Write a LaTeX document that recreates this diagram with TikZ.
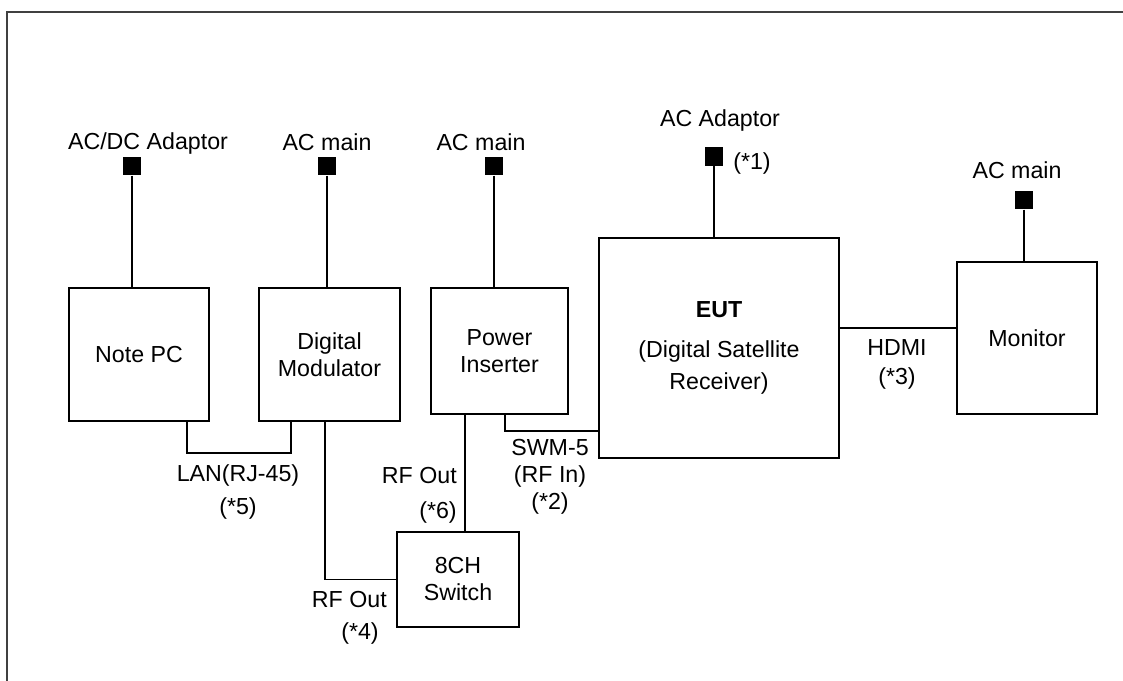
\documentclass[tikz,border=0pt]{standalone}
\usepackage{fontspec}
\setmainfont{Liberation Sans}
\usepackage{tikz}
\usetikzlibrary{positioning,calc}
\newcommand{\lblfont}{\fontsize{16.5pt}{19.2pt}\selectfont}

\begin{document}
\begin{tikzpicture}[x=0.025cm, y=-0.025cm,
  box/.style={draw, line width=1.3pt, inner sep=0pt, align=center, font=\lblfont},
  plug/.style={fill=black, minimum size=0.47cm, inner sep=0pt},
  lbl/.style={align=center, font=\lblfont, inner sep=0pt},
  wire/.style={line width=1.3pt}]
  \useasboundingbox (0,0) rectangle (1123,681);
  \draw[line width=1.4pt, black!75] (1123,12) -- (7,12) -- (7,681);

  % units
  \node[box, minimum width=3.5cm, minimum height=3.325cm] (notepc) at (139,354.5) {Note PC};
  \node[box, minimum width=3.525cm, minimum height=3.325cm] (digmod) at (329.5,354.5) {Digital\\Modulator};
  \node[box, minimum width=3.425cm, minimum height=3.15cm] (pwrins) at (499.5,351) {Power\\Inserter};
  \node[box, minimum width=6cm, minimum height=5.5cm] (eut) at (719,348)
       {\textbf{EUT}\\[9.3pt](Digital Satellite\\[3.6pt]Receiver)};
  \node[box, minimum width=3.5cm, minimum height=3.8cm] (monitor) at (1027,338) {Monitor};
  \node[box, minimum width=3.05cm, minimum height=2.375cm] (switch) at (458,579.5) {8CH\\Switch};

  % power plugs
  \node[plug] (acdc) at (132,166) {};
  \node[plug] (acmodul) at (327,166) {};
  \node[plug] (acinsert) at (494,166) {};
  \node[plug] (acadapt) at (714,156.5) {};
  \node[plug] (acmon) at (1024,200) {};
  \node[lbl] (lacdc) at (148,144) {AC/DC Adaptor};
  \node[lbl] (lmodul) at (327,142) {AC main};
  \node[lbl] (linsert) at (481,142) {AC main};
  \node[lbl] (ladapt) at (720,121) {AC Adaptor};
  \node[lbl] (lstar1) at (752,163.5) {(*1)};
  \node[lbl] (lmon) at (1017,170.5) {AC main};

  \draw[wire] (acdc) -- (acdc |- notepc.north);
  \draw[wire] (acmodul) -- (acmodul |- digmod.north);
  \draw[wire] (acinsert) -- (acinsert |- pwrins.north);
  \draw[wire] (acadapt) -- (acadapt |- eut.north);
  \draw[wire] (acmon) -- (acmon |- monitor.north);

  % cables
  \draw[wire] ($(notepc.south)+(48,0)$) -- ++(0,31) -| ($(digmod.south)+(-38.5,0)$);
  \draw[wire] ($(digmod.south)+(-4.5,0)$) |- (switch.west);
  \coordinate (sw6) at ($(switch.north)+(7,0)$);
  \draw[wire] (sw6) -- (sw6 |- pwrins.south);
  \draw[wire] ($(pwrins.south)+(5.5,0)$) |- ($(eut.south west)+(0,-28)$);
  \coordinate (hd) at ($(eut.east)+(0,-20)$);
  \draw[wire] (hd) -- (hd -| monitor.west);

  % cable labels
  \node[lbl] (llan) at (238,492) {LAN(RJ-45)\\[3.6pt](*5)};
  \node[lbl, align=right, anchor=east] (lrf6) at (457,495.5) {RF Out\\[5.7pt](*6)};
  \node[lbl] (lswm) at (550,476.5) {SWM-5\\(RF In)\\(*2)};
  \node[lbl, align=right, anchor=east] (lrf4) at (387,617.5) {RF Out\\[3.6pt](*4)\hspace*{0.2cm}};
  \node[lbl] (lhdmi) at (897,364) {HDMI\\[1.4pt](*3)};
\end{tikzpicture}
\end{document}
